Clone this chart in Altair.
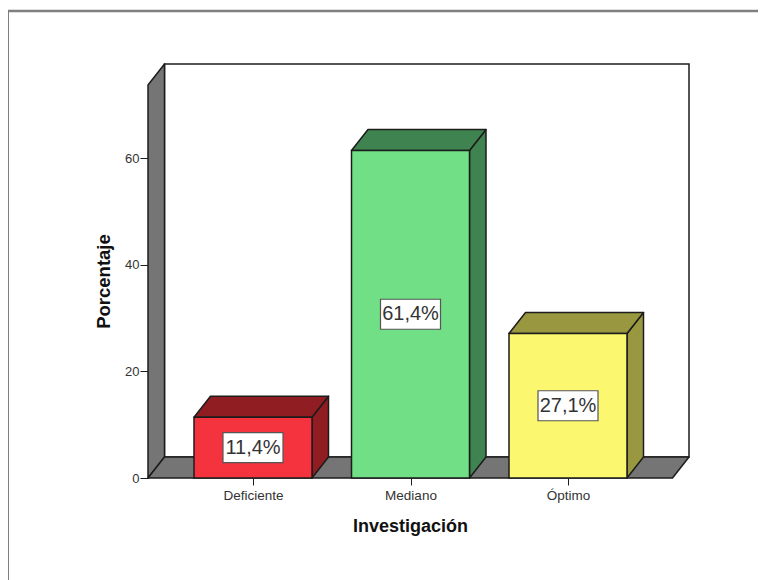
import altair as alt
import pandas as pd

categories = ["Deficiente", "Mediano", "Óptimo"]
percentages = [11.4, 61.4, 27.1]
labels = ["11,4%", "61,4%", "27,1%"]
front_colors = ["#F5333F", "#70DF85", "#FBF76F"]
side_colors = ["#8F1D21", "#3F8450", "#999840"]
y_ticks = [0, 20, 40, 60]
x_ticks = [0, 1, 2]

WALL = "#757575"
INK = "#1c1c1c"
FONT = "Liberation Sans"

# plot geometry in data units
PX_X, PX_Y = 157.5, 320 / 60
W, H = 541, 414
X_MIN = -105 / PX_X
X_MAX = X_MIN + W / PX_X
Y_MAX = H / PX_Y
DX, DY = 16.5 / PX_X, 21 / PX_Y
HALF = 59 / PX_X
FLOOR_R = X_MAX - DX

xs = alt.Scale(domain=[X_MIN, X_MAX], nice=False, zero=False)
ys = alt.Scale(domain=[0, Y_MAX], nice=False, zero=False)

x_axis = alt.Axis(
    values=x_ticks, labelExpr=f"{categories}[datum.value]", grid=False, domain=False,
    tickColor=INK, tickSize=7, tickWidth=1, labelColor="#333333", labelFont=FONT,
    labelFontSize=13.5, labelPadding=3, title="Investigación", titleFont=FONT,
    titleFontSize=18, titleFontWeight="bold", titleColor="#111111", titleX=262, titleY=39,
)
y_axis = alt.Axis(
    values=y_ticks, grid=False, domain=False, tickColor=INK, tickSize=8, tickWidth=1,
    labelColor="#333333", labelFont=FONT, labelFontSize=13, labelPadding=1,
    title="Porcentaje", titleFont=FONT, titleFontSize=18.5, titleFontWeight="bold",
    titleColor="#111111", titleX=-35, titleY=217,
)


def X(f="x:Q"):
    return alt.X(f, scale=xs, axis=x_axis)


def Y(f="y:Q"):
    return alt.Y(f, scale=ys, axis=y_axis)


def vface(rows, fill):
    return alt.Chart(pd.DataFrame(rows, columns=["x", "y", "y2"])).mark_area(
        fill=fill, stroke=INK, strokeWidth=1.5, strokeJoin="round"
    ).encode(x=X(), y=Y(), y2="y2:Q")


def hface(rows, fill):
    return alt.Chart(pd.DataFrame(rows, columns=["y", "x", "x2"])).mark_area(
        fill=fill, stroke=INK, strokeWidth=1.5, strokeJoin="round", orient="horizontal"
    ).encode(y=Y(), x=X(), x2="x2:Q")


def rect(x, x2, y, y2, fill):
    return alt.Chart(pd.DataFrame({"x": [x], "x2": [x2], "y": [y], "y2": [y2]})).mark_rect(
        fill=fill, stroke=INK, strokeWidth=1.5
    ).encode(x=X(), x2="x2:Q", y=Y(), y2="y2:Q")


back = rect(X_MIN + DX, X_MAX, DY, Y_MAX, "white")
left_wall = vface([[X_MIN, 0, Y_MAX - DY], [X_MIN + DX, DY, Y_MAX]], WALL)
floor = hface([[0, X_MIN, FLOOR_R], [DY, X_MIN + DX, X_MAX]], WALL)

layers = [back, left_wall, floor]
for i, v in enumerate(percentages):
    a, b = i - HALF, i + HALF
    layers.append(vface([[b, 0, v], [b + DX, DY, v + DY]], side_colors[i]))
    layers.append(hface([[v, a, b], [v + DY, a + DX, b + DX]], side_colors[i]))
    layers.append(rect(a, b, 0, v, front_colors[i]))

label_df = pd.DataFrame({"x": x_ticks, "y": [v / 2 for v in percentages], "t": labels})
boxes = alt.Chart(label_df).mark_rect(
    fill="white", stroke="#555555", strokeWidth=1.2, width=60, height=30
).encode(x=X(), y=Y())
texts = alt.Chart(label_df).mark_text(
    font=FONT, fontSize=20, color="#333333", baseline="middle", align="center"
).encode(x=X(), y=Y(), text="t:N")

border_left = alt.Chart(pd.DataFrame({"a": [0]})).mark_rule(color="#808080", strokeWidth=2).encode(
    x=alt.value(-140), y=alt.value(-53), y2=alt.value(516)
)
border_top = alt.Chart(pd.DataFrame({"a": [0]})).mark_rule(color="#808080", strokeWidth=2.5).encode(
    y=alt.value(-53), x=alt.value(-140), x2=alt.value(610)
)

chart = alt.layer(*layers, boxes, texts, border_left, border_top).properties(
    width=W, height=H, autosize="none",
    padding={"left": 140, "top": 56, "right": 69, "bottom": 102},
    background="white",
).configure_view(stroke=None)

chart.save("out.html", embed_options={"renderer": "svg", "actions": False})
